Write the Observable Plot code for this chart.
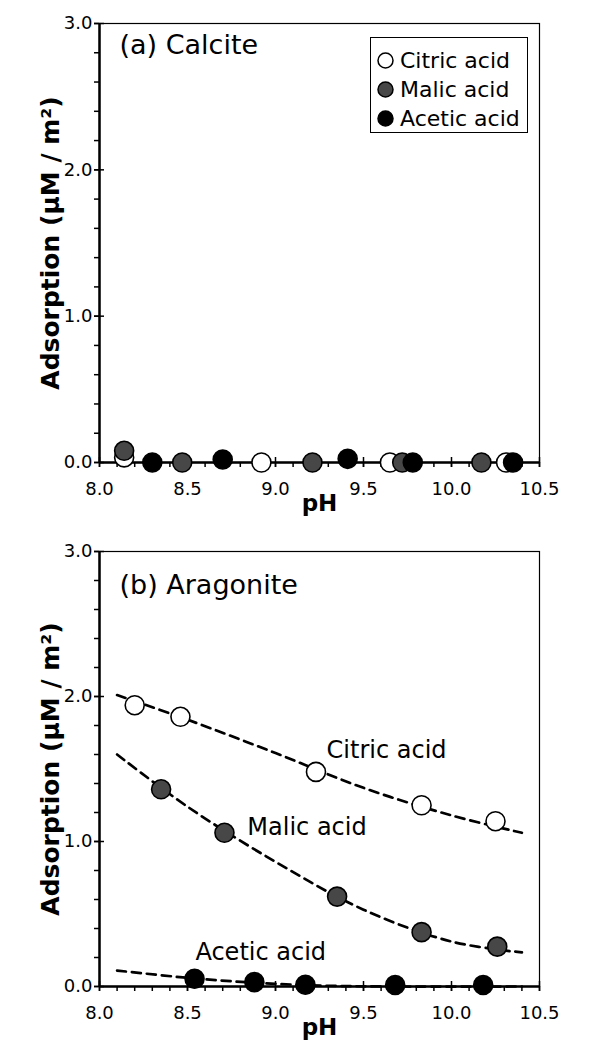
<!DOCTYPE html>
<html><head><meta charset="utf-8">
<script src="https://cdn.jsdelivr.net/npm/d3@7"></script>
<script src="https://cdn.jsdelivr.net/npm/@observablehq/plot@0.6"></script>
<style>
body{margin:0;background:#fff;font-family:"DejaVu Sans",sans-serif;}
#wrap{position:relative;width:602px;height:1050px;background:#fff;}
#wrap svg{display:block;}
.legend{position:absolute;left:370px;top:37px;width:158px;height:96px;border:1px solid #000;box-sizing:border-box;background:#fff;font-size:22px;color:#000;}
.legend .row{position:absolute;left:0;height:28px;display:flex;align-items:center;white-space:nowrap;}
.legend svg{margin-left:6px;margin-right:6px;}
</style></head><body><div id="wrap"></div>
<script>
// ---- data ----
const acids = ["Citric acid", "Malic acid", "Acetic acid"];
const acidFill = ["#ffffff", "#474747", "#000000"];

// (a) Calcite
const calciteCitricPH  = [8.14, 8.92, 9.65, 10.31];
const calciteCitricAds = [0.035, 0.0, 0.0, 0.0];
const calciteMalicPH   = [8.14, 8.47, 9.21, 9.72, 10.17];
const calciteMalicAds  = [0.08, 0.0, 0.0, 0.0, 0.0];
const calciteAceticPH  = [8.30, 8.70, 9.41, 9.78, 10.35];
const calciteAceticAds = [0.0, 0.02, 0.025, 0.0, 0.0];

// (b) Aragonite
const aragCitricPH  = [8.20, 8.46, 9.23, 9.83, 10.25];
const aragCitricAds = [1.94, 1.86, 1.48, 1.25, 1.14];
const aragMalicPH   = [8.35, 8.71, 9.35, 9.83, 10.26];
const aragMalicAds  = [1.36, 1.06, 0.62, 0.375, 0.275];
const aragAceticPH  = [8.54, 8.88, 9.17, 9.68, 10.18];
const aragAceticAds = [0.053, 0.03, 0.012, 0.01, 0.01];

// dashed fitted curves
const fitCitricPH  = [8.1, 8.5, 9.0, 9.5, 10.0, 10.4];
const fitCitricAds = [2.01, 1.84, 1.61, 1.37, 1.18, 1.06];
const fitMalicPH   = [8.1, 8.5, 9.0, 9.5, 10.0, 10.4];
const fitMalicAds  = [1.60, 1.24, 0.86, 0.53, 0.31, 0.235];
const fitAceticPH  = [8.1, 8.5, 8.9, 9.3, 9.7, 10.4];
const fitAceticAds = [0.11, 0.06, 0.025, 0.005, 0.0, 0.0];

// annotations in panel (b)
const annoLabels = ["Citric acid", "Malic acid", "Acetic acid"];
const annoPH     = [9.29, 8.84, 8.545];
const annoAds    = [1.63, 1.10, 0.237];

// axes
const xMajor = [8.0, 8.5, 9.0, 9.5, 10.0, 10.5];
const xMinor = d3.range(80, 106).map(d => d / 10);
const yMajor = [0.0, 1.0, 2.0, 3.0];
const yMinor = d3.range(0, 16).map(d => d / 5);
const xTitle = "pH";
const yTitle = "Adsorption (\u03bcM / m\u00b2)";
const panelTitles = ["(a) Calcite", "(b) Aragonite"];

// ---- build tables ----
function pts(series) {
  const out = [];
  series.forEach(([ph, ads], i) => ph.forEach((p, j) => out.push({acid: acids[i], idx: i, pH: p, ads: ads[j]})));
  return out;
}
const calcite = pts([[calciteCitricPH, calciteCitricAds], [calciteMalicPH, calciteMalicAds], [calciteAceticPH, calciteAceticAds]]);
const arag = pts([[aragCitricPH, aragCitricAds], [aragMalicPH, aragMalicAds], [aragAceticPH, aragAceticAds]]);
const fits = pts([[fitCitricPH, fitCitricAds], [fitMalicPH, fitMalicAds], [fitAceticPH, fitAceticAds]]);
const annos = annoLabels.map((t, i) => ({label: t, pH: annoPH[i], ads: annoAds[i]}));

const FONT = "DejaVu Sans, sans-serif";
const fmt = d3.format(".1f");

function panel({height, marginTop, marginBottom, title, titleDy, extra, data}) {
  return Plot.plot({
    width: 602, height, marginLeft: 99, marginRight: 63, marginTop, marginBottom,
    x: {domain: [8, 10.5]},
    y: {domain: [0, 3]},
    style: {fontFamily: FONT, color: "#000", background: "#fff", overflow: "visible"},
    marks: [
      Plot.frame({stroke: "#000", strokeWidth: 1.2}),
      Plot.ruleX([8], {stroke: "#000", strokeWidth: 2.5}),
      Plot.axisX({ticks: xMinor, tickSize: 5, fill: "none", strokeWidth: 1.5, label: null}),
      Plot.axisX({ticks: xMajor, tickSize: 10, dy: -5, fill: "none", strokeWidth: 1.5, label: null}),
      Plot.axisX({ticks: xMajor, tickSize: 0, tickPadding: 20, tickFormat: fmt, fontSize: 18, label: null}),
      Plot.axisY({ticks: yMinor, tickSize: 5, fill: "none", strokeWidth: 1.5, label: null}),
      Plot.axisY({ticks: yMajor, tickSize: 10, dx: 5, fill: "none", strokeWidth: 1.5, label: null}),
      Plot.axisY({ticks: yMajor, tickSize: 0, tickPadding: 7, tickFormat: fmt, fontSize: 18, label: null}),
      Plot.text([yTitle], {frameAnchor: "left", textAnchor: "middle", lineAnchor: "middle", rotate: -90, dx: -49, fontSize: 25, fontWeight: "bold", fill: "#000"}),
      Plot.text([xTitle], {frameAnchor: "bottom", dy: 48, fontSize: 23, fontWeight: "bold", fill: "#000"}),
      Plot.text([title], {frameAnchor: "top-left", dx: 20, dy: titleDy, lineAnchor: "middle", fontSize: 27, fill: "#000"}),
      ...extra,
      Plot.ruleY([0], {stroke: "#000", strokeWidth: 2.5}),
      Plot.dot(data, {x: "pH", y: "ads", r: 9.5, fill: d => acidFill[d.idx], stroke: "#000", strokeWidth: 1.6})
    ]
  });
}

const chartA = panel({
  height: 530, marginTop: 23, marginBottom: 68, title: panelTitles[0], titleDy: 22,
  extra: [], data: calcite
});
const chartB = panel({
  height: 520, marginTop: 21, marginBottom: 64, title: panelTitles[1], titleDy: 34,
  extra: [
    Plot.line(fits, {x: "pH", y: "ads", z: "acid", stroke: "#000", strokeWidth: 2.7, strokeDasharray: "9,6", curve: "catmull-rom"}),
    Plot.text(annos, {x: "pH", y: "ads", text: "label", textAnchor: "start", fontSize: 24, fill: "#000"})
  ],
  data: arag
});

const wrap = document.getElementById("wrap");
wrap.appendChild(chartA);
wrap.appendChild(chartB);

// legend inside panel (a)
const legend = document.createElement("div");
legend.className = "legend";
acids.forEach((name, i) => {
  const row = document.createElement("div");
  row.className = "row";
  row.style.top = (8 + i * 29) + "px";
  row.innerHTML = `<svg width="17" height="17"><circle cx="8.5" cy="8.5" r="7.5" fill="${acidFill[i]}" stroke="#000" stroke-width="1.5"/></svg><span>${name}</span>`;
  legend.appendChild(row);
});
wrap.appendChild(legend);
</script>
</body></html>
